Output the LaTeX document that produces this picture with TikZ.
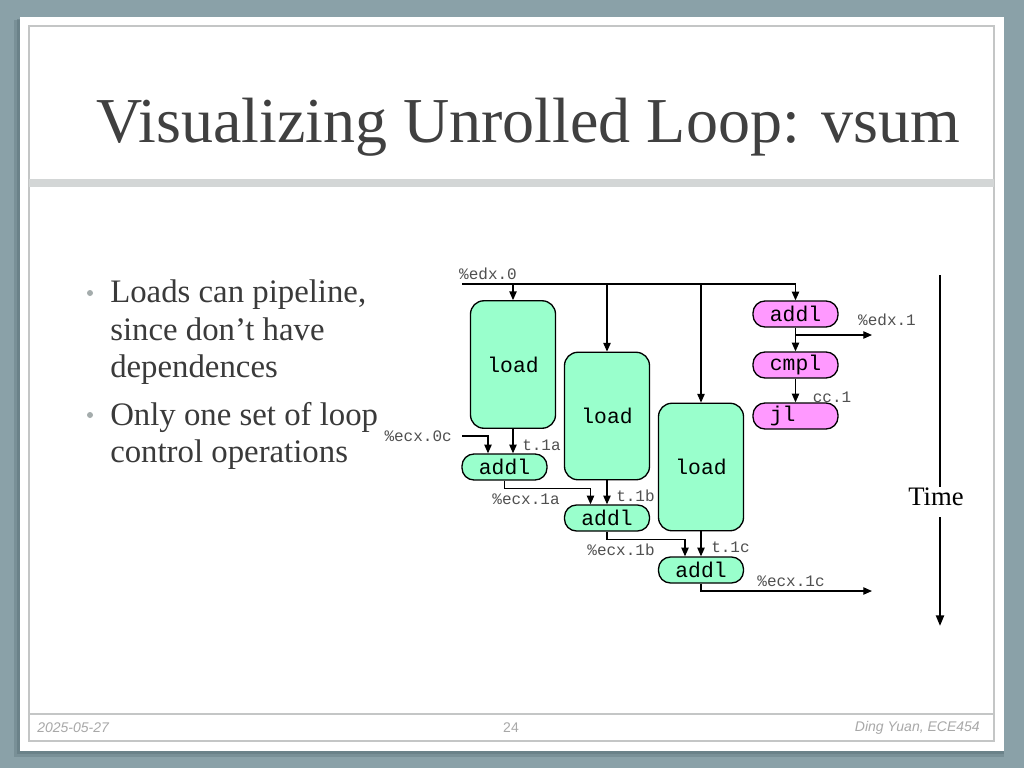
\documentclass[tikz,border=0pt]{standalone}
\usepackage{fontspec}
\setmainfont{Liberation Serif}
\newfontfamily\monofont{Liberation Mono}
\newfontfamily\footfont{Liberation Sans}
\usetikzlibrary{arrows.meta,calc}
\definecolor{bgc}{HTML}{8AA1A8}
\definecolor{shadowc}{HTML}{5C7178}
\definecolor{mint}{HTML}{99FFCC}
\definecolor{pinkc}{HTML}{FF99FF}
\definecolor{bordc}{HTML}{C4C6C6}
\definecolor{barc}{HTML}{D3D6D6}
\definecolor{titlec}{HTML}{404040}
\definecolor{textc}{HTML}{3A3A3A}
\definecolor{bulc}{HTML}{A4ACAC}
\definecolor{labc}{HTML}{505050}
\definecolor{footc}{HTML}{A8A8A8}
\begin{document}
\begin{tikzpicture}[x=0.75pt,y=-0.75pt,
  loadbox/.style={draw=black, fill=mint, line width=1pt, rounded corners=10pt,
    minimum width=63.75pt, minimum height=95.6pt, inner sep=0pt,
    font=\monofont\fontsize{16}{16}\selectfont},
  pillg/.style={draw=black, fill=mint, line width=1pt, rounded corners=9pt,
    minimum width=63.75pt, minimum height=19.5pt, inner sep=0pt,
    font=\monofont\fontsize{16}{16}\selectfont},
  pillp/.style={pillg, fill=pinkc},
  lab/.style={inner sep=0pt, text=labc, font=\monofont\fontsize{12}{12}\selectfont},
  arr/.style={draw=black, line width=0.9pt, -{Triangle[length=6.5pt,width=5.5pt]}},
  bul/.style={inner sep=0pt, anchor=base west, text=textc, font=\fontsize{24.6}{24.6}\selectfont},
  dot/.style={inner sep=0pt, text=bulc, circle, fill=bulc, minimum size=4.5pt},
  foot/.style={inner sep=0pt, text=footc, font=\footfont\fontsize{10.5}{10.5}\selectfont}
]
\useasboundingbox (0,0) rectangle (1024,768);
% background and slide
\fill[bgc] (0,0) rectangle (1024,768);
\fill[shadowc, opacity=0.35] (14,20) rectangle (1004,757);
\fill[shadowc, opacity=0.45] (17,19) rectangle (1004,754);
\fill[white] (20,17) rectangle (1004,751);
\draw[bordc, line width=1pt] (29,26) rectangle (994,741);
\fill[barc] (29,179) rectangle (994,187);
\draw[bordc, line width=1pt] (29,714) -- (994,714);

% title
\node[inner sep=0pt, anchor=base west, text=titlec, font=\fontsize{48}{48}\selectfont] (title) at (96,142) {Visualizing Unrolled Loop: vsum};

% bullets
\node[dot] (b1) at (90,293) {};
\node[bul] (l1) at (110,302) {Loads can pipeline,};
\node[bul] (l2) at (110,340) {since don’t have};
\node[bul] (l3) at (110,377) {dependences};
\node[dot] (b2) at (90,415) {};
\node[bul] (l4) at (110,425) {Only one set of loop};
\node[bul] (l5) at (110,462) {control operations};

% boxes
\node[loadbox] (load1) at (513,364.5) {load};
\node[loadbox] (load2) at (607,416) {load};
\node[loadbox] (load3) at (701,467) {load};
\node[pillg] (addl1) at (504.5,467) {addl};
\node[pillg] (addl2) at (607,518) {addl};
\node[pillg] (addl3) at (701,570) {addl};
\node[pillp] (paddl) at (795.5,314) {addl};
\node[pillp] (cmpl) at (795.5,365) {cmpl};
\node[pillp] (jl) at (795.5,416) {jl\hphantom{ll}};

% labels
\node[lab] (edx0) at (488,274) {\%edx.0};
\node[lab, anchor=east] (ecx0c) at (452,436) {\%ecx.0c};
\node[lab, anchor=west] (t1a) at (522,445) {t.1a};
\node[lab] (ecx1a) at (526,499) {\%ecx.1a};
\node[lab, anchor=west] (t1b) at (616,496) {t.1b};
\node[lab] (ecx1b) at (621,550) {\%ecx.1b};
\node[lab, anchor=west] (t1c) at (711,547) {t.1c};
\node[lab] (ecx1c) at (791,581) {\%ecx.1c};
\node[lab] (edx1) at (887,320) {\%edx.1};
\node[lab] (cc1) at (832,397) {cc.1};

% coordinates
\coordinate (e0) at (462,284);
\coordinate (c0) at (462,436);
\coordinate (o1c) at (872,591);
\coordinate (o1d) at (872,335);

% connectors
\draw[arr] (e0) -| (paddl.north);
\draw[arr] (load1.north |- e0) -- (load1.north);
\draw[arr] (load2.north |- e0) -- (load2.north);
\draw[arr] (load3.north |- e0) -- (load3.north);
\draw[arr] (c0) -| ($(addl1.north)+(-16.5,0)$);
\draw[arr] (load1.south) -- (load1.south |- addl1.north);
\draw[arr] (addl1.south) -- ++(0,8) -| ($(addl2.north)+(-16.5,0)$);
\draw[arr] (load2.south) -- (addl2.north);
\draw[arr] (addl2.south) -- ++(0,8) -| ($(addl3.north)+(-16,0)$);
\draw[arr] (load3.south) -- (addl3.north);
\draw[arr] (addl3.south) |- (o1c);
\draw[arr] (paddl.south) -- (cmpl.north);
\draw[arr] (paddl.south |- o1d) -- (o1d);
\draw[arr] (cmpl.south) -- (jl.north);

% time arrow
\node[inner sep=0pt, font=\fontsize{20}{20}\selectfont, text=black] (time) at (936,497) {Time};
\coordinate (ta) at (940,275);
\coordinate (tb) at (940,487);
\coordinate (tc) at (940,517);
\coordinate (td) at (940,626);
\draw[line width=1.6pt] (ta) -- (tb);
\draw[line width=1.6pt, -{Triangle[length=8pt,width=6pt]}] (tc) -- (td);

% footer
\node[foot, anchor=west, font=\footfont\itshape\fontsize{10.5}{10.5}\selectfont] (date) at (37,728) {2025-05-27};
\node[foot] (page) at (511,728) {24};
\node[foot, anchor=east, font=\footfont\itshape\fontsize{10.5}{10.5}\selectfont] (auth) at (980,728) {Ding Yuan, ECE454};
\end{tikzpicture}
\end{document}
